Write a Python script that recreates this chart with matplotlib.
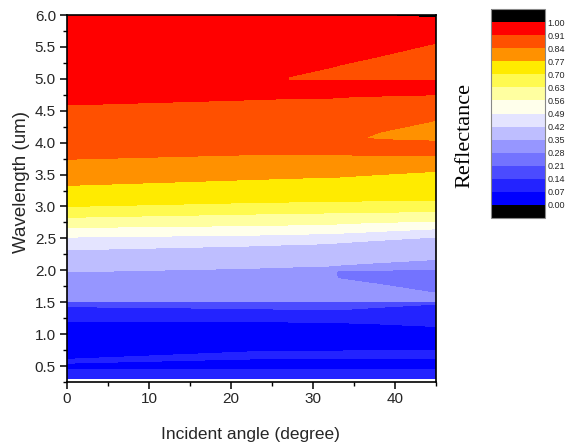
import numpy as np
import matplotlib
matplotlib.use("Agg")
import matplotlib.pyplot as plt
from matplotlib.colors import ListedColormap, BoundaryNorm

# ---- data ----
# incident-angle columns (degree)
ANGLES = [0, 22, 27, 32.6, 33, 38, 45]

# wavelength (um) of each data row, per angle column
WL_ROWS = [
    [6.00, 6.00, 6.00, 6.00, 6.00, 6.00, 6.00],
    [5.95, 5.95, 5.95, 5.95, 5.95, 5.95, 5.95],
    [5.10, 5.10, 5.03, 5.19, 5.21, 5.35, 5.56],
    [5.00, 5.00, 5.00, 5.08, 5.09, 5.16, 5.26],
    [4.97, 4.97, 4.97, 4.97, 4.97, 4.97, 4.97],
    [4.93, 4.93, 4.93, 4.93, 4.93, 4.93, 4.93],
    [4.59, 4.67, 4.69, 4.70, 4.71, 4.73, 4.75],
    [4.05, 4.05, 4.05, 4.05, 4.06, 4.08, 4.12],
    [3.95, 3.95, 3.95, 3.95, 3.95, 3.95, 3.95],
    [3.74, 3.81, 3.81, 3.81, 3.81, 3.80, 3.80],
    [3.33, 3.42, 3.44, 3.46, 3.46, 3.50, 3.55],
    [3.00, 3.06, 3.07, 3.08, 3.08, 3.09, 3.10],
    [2.83, 2.88, 2.89, 2.90, 2.90, 2.91, 2.92],
    [2.67, 2.70, 2.71, 2.72, 2.73, 2.75, 2.77],
    [2.52, 2.55, 2.56, 2.58, 2.58, 2.61, 2.65],
    [2.32, 2.38, 2.40, 2.42, 2.43, 2.47, 2.52],
    [1.975, 2.03, 2.05, 2.07, 2.08, 2.12, 2.17],
    [1.90, 1.95, 1.97, 2.00, 2.00, 2.00, 2.02],
    [1.85, 1.88, 1.90, 1.94, 1.94, 1.90, 1.83],
    [1.80, 1.83, 1.85, 1.87, 1.87, 1.78, 1.64],
    [1.55, 1.55, 1.55, 1.55, 1.55, 1.55, 1.55],
    [1.515, 1.515, 1.515, 1.515, 1.515, 1.515, 1.515],
    [1.505, 1.505, 1.505, 1.505, 1.505, 1.505, 1.505],
    [1.43, 1.40, 1.39, 1.38, 1.38, 1.42, 1.47],
    [1.20, 1.20, 1.19, 1.18, 1.18, 1.16, 1.12],
    [0.90, 0.90, 0.90, 0.90, 0.90, 0.90, 0.90],
    [0.605, 0.72, 0.73, 0.735, 0.735, 0.74, 0.74],
    [0.575, 0.665, 0.67, 0.675, 0.675, 0.68, 0.68],
    [0.545, 0.61, 0.615, 0.62, 0.62, 0.62, 0.62],
    [0.50, 0.50, 0.50, 0.50, 0.50, 0.50, 0.50],
    [0.45, 0.45, 0.45, 0.45, 0.45, 0.45, 0.45],
    [0.30, 0.30, 0.30, 0.30, 0.30, 0.30, 0.30],
]

# reflectance of each data row, per angle column
R_ROWS = [
    [0.95, 0.95, 0.95, 0.95, 0.95, 0.97, 1.06],
    [0.95, 0.95, 0.95, 0.95, 0.95, 0.95, 0.95],
    [0.95, 0.95, 0.91, 0.91, 0.91, 0.91, 0.91],
    [0.95, 0.95, 0.91, 0.88, 0.88, 0.88, 0.88],
    [0.95, 0.95, 0.91, 0.91, 0.91, 0.91, 0.91],
    [0.95, 0.95, 0.95, 0.95, 0.95, 0.95, 0.95],
    [0.91, 0.91, 0.91, 0.91, 0.91, 0.91, 0.91],
    [0.87, 0.87, 0.87, 0.87, 0.86, 0.83, 0.80],
    [0.87, 0.87, 0.87, 0.87, 0.87, 0.87, 0.87],
    [0.84, 0.84, 0.84, 0.84, 0.84, 0.84, 0.84],
    [0.77, 0.77, 0.77, 0.77, 0.77, 0.77, 0.77],
    [0.70, 0.70, 0.70, 0.70, 0.70, 0.70, 0.70],
    [0.63, 0.63, 0.63, 0.63, 0.63, 0.63, 0.63],
    [0.56, 0.56, 0.56, 0.56, 0.56, 0.56, 0.56],
    [0.49, 0.49, 0.49, 0.49, 0.49, 0.49, 0.49],
    [0.42, 0.42, 0.42, 0.42, 0.42, 0.42, 0.42],
    [0.35, 0.35, 0.35, 0.35, 0.35, 0.35, 0.35],
    [0.31, 0.31, 0.31, 0.31, 0.28, 0.28, 0.28],
    [0.31, 0.31, 0.31, 0.31, 0.25, 0.25, 0.25],
    [0.31, 0.31, 0.31, 0.31, 0.28, 0.28, 0.28],
    [0.31, 0.31, 0.31, 0.31, 0.31, 0.31, 0.31],
    [0.28, 0.28, 0.28, 0.28, 0.28, 0.28, 0.28],
    [0.21, 0.21, 0.21, 0.21, 0.21, 0.21, 0.21],
    [0.14, 0.14, 0.14, 0.14, 0.14, 0.14, 0.14],
    [0.07, 0.07, 0.07, 0.07, 0.07, 0.07, 0.07],
    [0.04, 0.04, 0.04, 0.04, 0.04, 0.04, 0.04],
    [0.07, 0.07, 0.07, 0.07, 0.07, 0.07, 0.07],
    [0.09, 0.09, 0.09, 0.09, 0.09, 0.09, 0.09],
    [0.07, 0.07, 0.07, 0.07, 0.07, 0.07, 0.07],
    [0.04, 0.04, 0.04, 0.04, 0.04, 0.04, 0.04],
    [0.07, 0.07, 0.07, 0.07, 0.07, 0.07, 0.07],
    [0.10, 0.10, 0.10, 0.10, 0.10, 0.10, 0.10],
]

LEVELS = [0.00, 0.07, 0.14, 0.21, 0.28, 0.35, 0.42, 0.49, 0.56, 0.63, 0.70, 0.77, 0.84, 0.91, 1.00]
LEVEL_LABELS = ["0.00", "0.07", "0.14", "0.21", "0.28", "0.35", "0.42", "0.49",
                "0.56", "0.63", "0.70", "0.77", "0.84", "0.91", "1.00"]
BAND_COLORS = ["#0000ff", "#2323ff", "#4b4bff", "#7373ff", "#9696ff", "#bebeff",
               "#e4e4ff", "#ffffeb", "#ffffa0", "#fffa50", "#ffeb00", "#ff9100",
               "#ff5000", "#ff0000"]

X_TICKS = [0, 10, 20, 30, 40]
Y_TICKS = [0.5, 1.0, 1.5, 2.0, 2.5, 3.0, 3.5, 4.0, 4.5, 5.0, 5.5, 6.0]

plt.rcParams["font.family"] = ["Liberation Sans", "DejaVu Sans"]
TXT = "#262626"

# ---- figure ----
fig = plt.figure(figsize=(5.71, 4.45), dpi=100)
ax = fig.add_axes([67 / 571, 1 - 382 / 445, 369 / 571, 367 / 445])

ang = np.array(ANGLES, dtype=float)
Y = np.array(WL_ROWS, dtype=float)
X = np.tile(ang, (Y.shape[0], 1))
Z = np.array(R_ROWS, dtype=float)

cmap = ListedColormap(BAND_COLORS)
cmap.set_under("black")
cmap.set_over("black")
norm = BoundaryNorm(LEVELS, cmap.N)

cs = ax.contourf(X, Y, Z, levels=LEVELS, cmap=cmap, norm=norm, extend="both")

ax.set_xlim(0, 45)
ax.set_ylim(0.3, 6.0)
ax.set_xticks(X_TICKS)
ax.set_xticks([5, 15, 25, 35, 45], minor=True)
ax.set_yticks(Y_TICKS)
ax.set_yticks(np.array(Y_TICKS) - 0.25, minor=True)
ax.set_yticklabels([f"{v:.1f}" for v in Y_TICKS])
ax.tick_params(which="major", direction="out", length=5, width=1.1, labelsize=11,
               labelcolor=TXT)
ax.tick_params(axis="x", which="major", pad=2)
ax.tick_params(axis="y", which="major", pad=3)
ax.tick_params(which="minor", direction="out", length=3, width=1.0)
for sp in ax.spines.values():
    sp.set_linewidth(1.2)
ax.set_xlabel("Incident angle (degree)", fontsize=12.5, color=TXT)
ax.set_ylabel("Wavelength (um)", fontsize=13.5, color=TXT)
ax.xaxis.set_label_coords((250 - 67) / 369, (382 - 434) / 367)
ax.yaxis.set_label_coords((22 - 67) / 369, (382 - 182) / 367)
ax.xaxis.label.set_va("center")
ax.yaxis.label.set_va("center")

# colorbar
cax = fig.add_axes([491 / 571, 1 - 218 / 445, 54 / 571, 209 / 445])
cb = fig.colorbar(cs, cax=cax, extend="both", extendrect=True, extendfrac=13 / 183)
cb.set_ticks(LEVELS)
cb.set_ticklabels(LEVEL_LABELS)
cb.ax.tick_params(length=0, labelsize=6.5, pad=2, labelcolor=TXT)
cb.outline.set_edgecolor("#888888")
cb.outline.set_linewidth(0.8)

fig.text(465 / 571, 1 - 136 / 445, "Reflectance", rotation=90, ha="center", va="center",
         fontsize=16, family="Liberation Serif")

fig.savefig("out.png", dpi=100)
